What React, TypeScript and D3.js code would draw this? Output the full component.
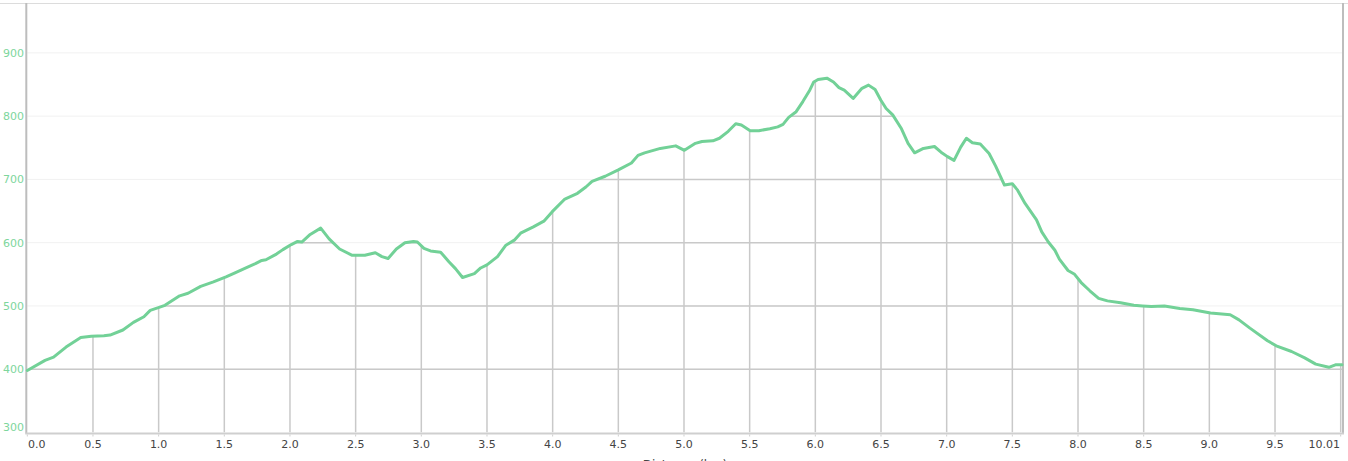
import React from "react";
import * as d3 from "d3";

const distances: number[] = [
  0, 0.135, 0.2, 0.295, 0.407, 0.487, 0.583, 0.63, 0.728, 0.808, 0.888, 0.936,
  1.048, 1.16, 1.224, 1.32, 1.417, 1.513, 1.577, 1.673, 1.737, 1.785, 1.817,
  1.897, 1.946, 2.01, 2.058, 2.09, 2.154, 2.234, 2.298, 2.378, 2.474, 2.57,
  2.65, 2.7, 2.747, 2.81, 2.875, 2.94, 2.97, 3.02, 3.07, 3.147, 3.21, 3.26,
  3.314, 3.404, 3.452, 3.5, 3.58, 3.644, 3.708, 3.756, 3.853, 3.933, 3.997,
  4.093, 4.189, 4.253, 4.3, 4.4, 4.5, 4.6, 4.65, 4.7, 4.82, 4.937, 5.003,
  5.087, 5.137, 5.22, 5.27, 5.337, 5.394, 5.437, 5.504, 5.57, 5.654, 5.714,
  5.754, 5.797, 5.854, 5.905, 5.955, 5.988, 6.021, 6.088, 6.138, 6.18, 6.22,
  6.288, 6.355, 6.405, 6.455, 6.499, 6.539, 6.589, 6.656, 6.706, 6.756, 6.823,
  6.907, 6.957, 7.006, 7.056, 7.107, 7.15, 7.196, 7.256, 7.323, 7.373, 7.44,
  7.5, 7.54, 7.597, 7.684, 7.724, 7.774, 7.824, 7.858, 7.924, 7.974, 8.024,
  8.09, 8.157, 8.224, 8.324, 8.425, 8.491, 8.558, 8.658, 8.775, 8.875, 9.009,
  9.159, 9.226, 9.309, 9.443, 9.509, 9.626, 9.726, 9.81, 9.91, 9.96, 10.01,
];

const elevations: number[] = [
  398, 414, 419, 435, 450, 452, 453, 454, 462, 474, 483, 493,
  501, 516, 520, 531, 538, 546, 552, 561, 567, 572, 573,
  582, 589, 597, 602, 601, 613, 623, 606, 590, 580, 580,
  584, 578, 575, 590, 600, 602, 601, 591, 587, 585, 570, 559,
  545, 551, 560, 565, 578, 596, 604, 615, 625, 634, 649,
  669, 678, 688, 697, 705, 715, 726, 738, 742, 749, 753, 746,
  757, 760, 761, 765, 776, 788, 786, 777, 777, 780, 783,
  787, 798, 807, 823, 840, 854, 858, 860, 854, 845, 841,
  828, 844, 849, 842, 825, 812, 802, 780, 757, 742, 749,
  752, 743, 736, 730, 751, 765, 758, 756, 741, 721, 691,
  693, 683, 662, 636, 617, 601, 588, 574, 556, 550, 537,
  524, 512, 508, 505, 501, 500, 499, 500, 496, 494, 489,
  486, 478, 465, 445, 437, 428, 418, 408, 403, 407, 407,
];

const xTicks: number[] = [0, 0.5, 1, 1.5, 2, 2.5, 3, 3.5, 4, 4.5, 5, 5.5, 6, 6.5, 7, 7.5, 8, 8.5, 9, 9.5, 10];
const xTickLabels: string[] = ["0.0", "0.5", "1.0", "1.5", "2.0", "2.5", "3.0", "3.5", "4.0", "4.5", "5.0", "5.5", "6.0", "6.5", "7.0", "7.5", "8.0", "8.5", "9.0", "9.5"];
const xEndLabel = "10.01";
const yTicks: number[] = [300, 400, 500, 600, 700, 800, 900];
const xTitle = "Distance (km)";

const W = 1348;
const H = 461;
const left = 27.3;
const right = 1342;
const top = 3.5;
const bottom = 432.5;

export default function App() {
  const x = d3.scaleLinear().domain([0, 10.01]).range([left, right]);
  const y = d3.scaleLinear().domain([300, 978]).range([bottom, top]);
  const pts: [number, number][] = distances.map((d, i) => [d, elevations[i]]);
  const line = d3.line<[number, number]>().x((p) => x(p[0])).y((p) => y(p[1]));
  const area = d3
    .area<[number, number]>()
    .x((p) => x(p[0]))
    .y0(bottom)
    .y1((p) => y(p[1]));
  const font = "'DejaVu Sans', Verdana, sans-serif";

  return (
    <svg
      width={W}
      height={H}
      style={{ position: "absolute", left: 0, top: 0, background: "#fff" }}
    >
      <defs>
        <clipPath id="under">
          <path d={area(pts) || ""} />
        </clipPath>
      </defs>
      {/* top border */}
      <line x1={0} x2={W} y1={3.5} y2={3.5} stroke="#dcdcdc" strokeWidth={1} />
      {/* faint horizontal grid */}
      {yTicks.slice(1).map((t) => (
        <line key={"fg" + t} x1={left} x2={right} y1={y(t)} y2={y(t)} stroke="#f1f1f1" strokeWidth={1} />
      ))}
      {/* darker grid under curve */}
      <g clipPath="url(#under)">
        {yTicks.slice(1).map((t) => (
          <line key={"dg" + t} x1={left} x2={right} y1={y(t)} y2={y(t)} stroke="#c9c9c9" strokeWidth={1.5} />
        ))}
        {xTicks.slice(1).map((t) => (
          <line key={"vg" + t} x1={x(t)} x2={x(t)} y1={top} y2={bottom} stroke="#c9c9c9" strokeWidth={1.5} />
        ))}
      </g>
      {/* axes */}
      <line x1={left - 1} x2={left - 1} y1={3} y2={bottom + 1} stroke="#bdbdbd" strokeWidth={2} />
      <line x1={right + 1} x2={right + 1} y1={3} y2={bottom + 1} stroke="#bdbdbd" strokeWidth={2} />
      <line x1={left - 2} x2={right + 2} y1={bottom + 1} y2={bottom + 1} stroke="#cfcfcf" strokeWidth={2} />
      {xTicks.map((t) => (
        <line key={"tk" + t} x1={x(t)} x2={x(t)} y1={bottom + 2} y2={bottom + 4} stroke="#cfcfcf" strokeWidth={1} />
      ))}
      {/* elevation line */}
      <path d={line(pts) || ""} fill="none" stroke="#72d197" strokeWidth={3} strokeLinejoin="round" strokeLinecap="round" />
      {/* y labels */}
      {yTicks.map((t) => (
        <text
          key={"yl" + t}
          x={24}
          y={Math.min(y(t), bottom - 5)}
          dy="0.35em"
          textAnchor="end"
          fontFamily={font}
          fontSize={11}
          fill="#7dd69c"
        >
          {t}
        </text>
      ))}
      {/* x labels */}
      {xTickLabels.map((lab, i) => (
        <text
          key={"xl" + lab}
          x={i === 0 ? 28 : x(xTicks[i])}
          y={448}
          textAnchor={i === 0 ? "start" : "middle"}
          fontFamily={font}
          fontSize={11}
          fill="#444"
        >
          {lab}
        </text>
      ))}
      <text x={1340} y={448} textAnchor="end" fontFamily={font} fontSize={11} fill="#444">
        {xEndLabel}
      </text>
      <text x={685} y={469} textAnchor="middle" fontFamily={font} fontSize={12} fill="#444">
        {xTitle}
      </text>
    </svg>
  );
}
